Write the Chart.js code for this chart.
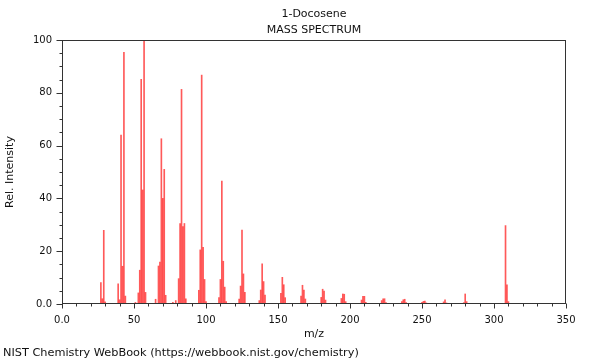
<!DOCTYPE html>
<html>
<head>
<meta charset="utf-8">
<script src="https://cdn.jsdelivr.net/npm/chart.js@4/dist/chart.umd.min.js"></script>
<style>
  html, body { margin: 0; padding: 0; background: #fff; }
  #wrap { width: 600px; height: 360px; position: relative; }
</style>
</head>
<body>
<div id="wrap"><canvas id="chart"></canvas></div>
<script>
const mz = [
  27, 28, 29, 30, 39, 40, 41, 42, 43, 44, 51, 53, 54, 55, 56, 57, 58,
  65, 67, 68, 69, 70, 71, 72, 77, 79, 81, 82, 83, 84, 85, 86,
  95, 96, 97, 98, 99, 100, 109, 110, 111, 112, 113, 114,
  123, 124, 125, 126, 127, 137, 138, 139, 140, 141,
  152, 153, 154, 155, 166, 167, 168, 169, 180, 181, 182, 183,
  194, 195, 196, 197, 208, 209, 210, 211, 222, 223, 224, 225,
  236, 237, 238, 239, 250, 251, 252, 253, 265, 266, 267,
  279, 280, 281, 308, 309, 310
];
const intensity = [
  8.1, 2.0, 27.9, 0.8, 7.6, 1.6, 64.0, 14.3, 95.3, 3.0, 0.6, 4.2, 12.8, 85.1, 43.2, 100, 4.4,
  1.8, 14.4, 15.9, 62.6, 40.0, 51.0, 3.3, 0.6, 1.3, 9.6, 30.5, 81.3, 29.3, 30.5, 2.0,
  5.2, 20.5, 86.7, 21.5, 9.3, 0.9, 2.4, 9.3, 46.6, 16.2, 6.4, 0.9,
  1.9, 6.8, 28.0, 11.4, 4.4, 1.3, 5.3, 15.2, 8.5, 3.4,
  4.0, 10.1, 7.3, 2.4, 3.0, 7.1, 5.3, 1.9, 2.5, 5.6, 4.9, 1.5,
  2.1, 3.8, 3.7, 0.9, 1.5, 2.9, 2.9, 0.6, 1.3, 2.0, 2.0, 0.5,
  0.9, 1.6, 1.8, 0.5, 0.6, 1.0, 1.1, 0.4, 0.8, 1.6, 0.4,
  0.5, 3.8, 0.9, 29.7, 7.3, 0.9
];
const titleLines = ['1-Docosene', 'MASS SPECTRUM'];
const xLabel = 'm/z';
const yLabel = 'Rel. Intensity';
const footerText = 'NIST Chemistry WebBook (https://webbook.nist.gov/chemistry)';

const FONT = 'DejaVu Sans';

// frame, tick marks and the text around the plot
const framePlugin = {
  id: 'frame',
  afterDraw(chart) {
    const { ctx, chartArea: a, scales } = chart;
    ctx.save();
    ctx.strokeStyle = '#333';
    ctx.lineWidth = 1;
    const l = Math.round(a.left) + 0.5, r = Math.round(a.right) - 0.5;
    const t = Math.round(a.top) + 0.5, b = Math.round(a.bottom) - 0.5;
    ctx.strokeRect(l, t, r - l, b - t);

    ctx.beginPath();
    scales.y.ticks.forEach(tk => {
      const py = Math.round(scales.y.getPixelForValue(tk.value)) + 0.5;
      const len = tk.value % 20 === 0 ? 6 : 3;
      ctx.moveTo(l - len, py);
      ctx.lineTo(l, py);
    });
    scales.x.ticks.forEach(tk => {
      const px = Math.round(scales.x.getPixelForValue(tk.value)) + 0.5;
      const len = tk.value % 50 === 0 ? 5 : 3;
      ctx.moveTo(px, b);
      ctx.lineTo(px, b + len);
    });
    ctx.stroke();

    ctx.fillStyle = '#111';
    ctx.font = '11px "' + FONT + '"';
    ctx.textAlign = 'center';
    ctx.textBaseline = 'middle';
    const cx = (a.left + a.right) / 2;
    ctx.fillText(titleLines[0], cx, 14);
    ctx.fillText(titleLines[1], cx, 30.5);
    ctx.textAlign = 'left';
    ctx.font = '11.3px "' + FONT + '"';
    ctx.fillText(footerText, 3, 353);
    ctx.restore();
  }
};

const ctx = document.getElementById('chart').getContext('2d');
new Chart(ctx, {
  type: 'bar',
  data: {
    datasets: [{
      data: mz.map((m, i) => ({ x: m, y: intensity[i] })),
      backgroundColor: 'rgba(255,0,0,0.65)',
      barThickness: 1,
      borderWidth: 0
    }]
  },
  options: {
    responsive: true,
    maintainAspectRatio: false,
    animation: false,
    layout: { padding: { top: 40, right: 34, bottom: 18, left: 0 } },
    plugins: {
      legend: { display: false },
      tooltip: { enabled: false }
    },
    scales: {
      x: {
        type: 'linear',
        min: 0,
        max: 350,
        offset: false,
        grid: { display: false, offset: false, drawTicks: false },
        border: { display: false },
        ticks: {
          stepSize: 10,
          autoSkip: false,
          maxRotation: 0,
          padding: 10,
          color: '#111',
          font: { family: FONT, size: 10 },
          callback: v => v % 50 === 0 ? (v === 0 ? '0.0' : String(v)) : ''
        },
        title: {
          display: true,
          text: xLabel,
          color: '#111',
          font: { family: FONT, size: 11 },
          padding: { top: 0, bottom: 1.5 }
        },
        afterFit: s => { s.height = 38; }
      },
      y: {
        min: 0,
        max: 100,
        grid: { display: false, drawTicks: false },
        border: { display: false },
        ticks: {
          stepSize: 5,
          autoSkip: false,
          padding: 10,
          color: '#111',
          font: { family: FONT, size: 10 },
          callback: v => v % 20 === 0 ? (v === 0 ? '0.0' : String(v)) : ''
        },
        title: {
          display: true,
          text: yLabel,
          color: '#111',
          font: { family: FONT, size: 11 },
          padding: { top: 4, bottom: 0 }
        },
        afterFit: s => { s.width = 62; }
      }
    }
  },
  plugins: [framePlugin]
});
</script>
</body>
</html>
